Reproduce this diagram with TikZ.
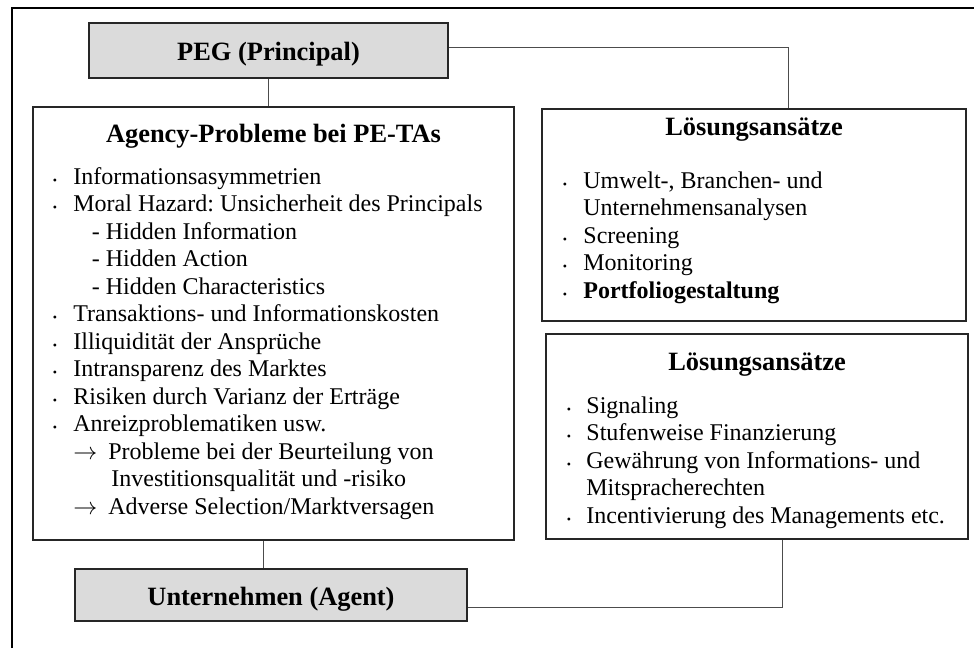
\documentclass[tikz,border=0pt]{standalone}
\usepackage{fontspec}
\setmainfont{Liberation Serif}
\usetikzlibrary{positioning}
\definecolor{boxgray}{rgb}{0.86,0.86,0.86}
\frenchspacing

\tikzset{
  box/.style={draw=black!85, line width=1pt, inner sep=0pt},
  graybox/.style={box, fill=boxgray, font=\fontsize{13.2}{15}\selectfont\bfseries},
  link/.style={draw=black!70, line width=0.5pt},
  boxtitle/.style={font=\fontsize{13.2}{15}\selectfont\bfseries, anchor=base, inner sep=0pt},
  txt/.style={font=\fontsize{12}{13.75}\selectfont, anchor=base west, inner sep=0pt},
  bdot/.style={font=\fontsize{6}{6}\selectfont, anchor=base, inner sep=0pt},
}

\begin{document}
\begin{tikzpicture}[x=0.5pt, y=-0.5pt]
            \useasboundingbox (0,0) rectangle (974,648);
            % outer frame (cut off at the right and bottom)
            \draw[line width=1pt] (12,648) -- (12,8) -- (974,8);

            % principal and agent
            \node[graybox, minimum width=179.5pt, minimum height=27.5pt,
                  text height=10.5pt, text depth=0pt] (peg) at (268.5,50.5) {PEG (Principal)};
            \node[graybox, minimum width=196pt, minimum height=26pt,
                  text height=10pt, text depth=0pt] (unt) at (271,595) {Unternehmen (Agent)};

            % the three boxes
            \node[box, minimum width=240.5pt, minimum height=216.5pt] (agency) at (273.5,323.5) {};
            \node[box, minimum width=212pt, minimum height=106pt] (loesA) at (754,215) {};
            \node[box, minimum width=211pt, minimum height=102.5pt] (loesB) at (757,436.5) {};

            % connectors
            \draw[link] (peg.south) -- (peg.south |- agency.north);
            \draw[link] ([xshift=-5.25pt]agency.south) -- ([xshift=-5.25pt]agency.south |- unt.north);
            \draw[link] ([yshift=1.75pt]peg.east) -| ([xshift=17.35pt]loesA.north);
            \draw[link] ([yshift=-6pt]unt.east) -| ([xshift=12.85pt]loesB.south);

            % Agency-Probleme
            \node[boxtitle] (agT) at (273.5,142) {Agency-Probleme bei PE-TAs};
            \foreach \y [count=\i] in {184,211.5,321.5,349,376.5,404,431.5}
              \node[bdot] (agb\i) at (55,\y) {•};
            \node[txt] (ag1) at (73,184) {Informationsasymmetrien};
            \node[txt] (ag2) at (73,211.5) {Moral Hazard: Unsicherheit des Principals};
            \node[txt] (ag3) at (91.5,239) {- Hidden Information};
            \node[txt] (ag4) at (91.5,266.5) {- Hidden Action};
            \node[txt] (ag5) at (91.5,294) {- Hidden Characteristics};
            \node[txt] (ag6) at (73,321.5) {Transaktions- und Informationskosten};
            \node[txt] (ag7) at (73,349) {Illiquidität der Ansprüche};
            \node[txt] (ag8) at (73,376.5) {Intransparenz des Marktes};
            \node[txt] (ag9) at (73,404) {Risiken durch Varianz der Erträge};
            \node[txt] (ag10) at (73,431.5) {Anreizproblematiken usw.};
            \node[txt] (agp1) at (73,459) {$\rightarrow$};
            \node[txt] (ag11) at (108,459) {Probleme bei der Beurteilung von};
            \node[txt] (ag12) at (111,486.5) {Investitionsqualität und -risiko};
            \node[txt] (agp2) at (73,514) {$\rightarrow$};
            \node[txt] (ag13) at (108,514) {Adverse Selection/Marktversagen};

            % Loesungsansaetze (oben)
            \node[boxtitle] (lAT) at (754,135) {Lösungsansätze};
            \foreach \y [count=\i] in {188,243,270.5,298}
              \node[bdot] (lAb\i) at (565,\y) {•};
            \node[txt] (lA1) at (583,188) {Umwelt-, Branchen- und};
            \node[txt] (lA2) at (583,215.5) {Unternehmensanalysen};
            \node[txt] (lA3) at (583,243) {Screening};
            \node[txt] (lA4) at (583,270.5) {Monitoring};
            \node[txt, font=\fontsize{12}{13.75}\selectfont\bfseries] (lA5) at (583,298) {Portfoliogestaltung};

            % Loesungsansaetze (unten)
            \node[boxtitle] (lBT) at (757,370) {Lösungsansätze};
            \foreach \y [count=\i] in {413,440.5,468,523}
              \node[bdot] (lBb\i) at (569,\y) {•};
            \node[txt] (lB1) at (586,413) {Signaling};
            \node[txt] (lB2) at (586,440.5) {Stufenweise Finanzierung};
            \node[txt] (lB3) at (586,468) {Gewährung von Informations- und};
            \node[txt] (lB4) at (586,495.5) {Mitspracherechten};
            \node[txt] (lB5) at (586,523) {Incentivierung des Managements etc.};
\end{tikzpicture}
\end{document}
